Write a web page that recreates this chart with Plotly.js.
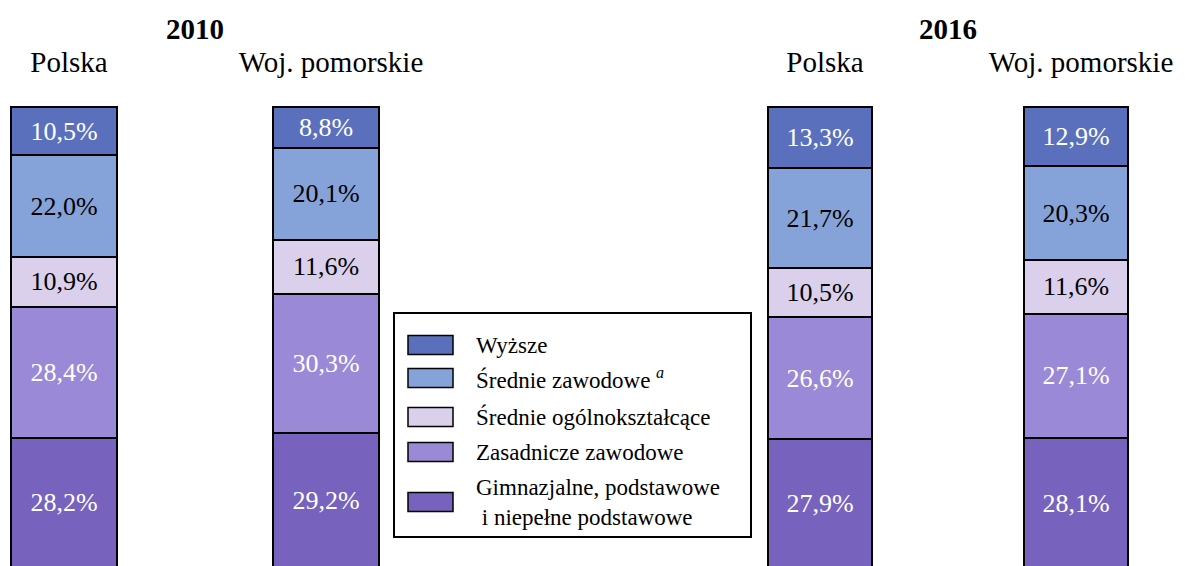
<!DOCTYPE html>
<html>
<head>
<meta charset="utf-8">
<script src="https://cdn.plot.ly/plotly-3.0.1.min.js"></script>
<style>
html,body{margin:0;padding:0;background:#fff;}
#chart{width:1185px;height:566px;}
</style>
</head>
<body>
<div id="chart"></div>
<script>
// ---- data ----
const categories = ['Polska', 'Woj. pomorskie'];
const years = ['2010', '2016'];
// levels listed bottom -> top of the stack
const levels = ['Gimnazjalne, podstawowe<br> i niepełne podstawowe', 'Zasadnicze zawodowe', 'Średnie ogólnokształcące', 'Średnie zawodowe <sup><i>a</i></sup>', 'Wyższe'];
// values [Polska, Woj. pomorskie] per level, 2010
const gimnazjalne2010 = [28.2, 29.2];
const zasadnicze2010  = [28.4, 30.3];
const srOgolne2010    = [10.9, 11.6];
const srZawodowe2010  = [22.0, 20.1];
const wyzsze2010      = [10.5, 8.8];
// 2016
const gimnazjalne2016 = [27.9, 28.1];
const zasadnicze2016  = [26.6, 27.1];
const srOgolne2016    = [10.5, 11.6];
const srZawodowe2016  = [21.7, 20.3];
const wyzsze2016      = [13.3, 12.9];

const colors = ['#7763bd', '#9a89d6', '#dad0ec', '#86a3d9', '#5b70bd'];
const textColors = ['#ffffff', '#ffffff', '#000000', '#000000', '#ffffff'];

const series2010 = [gimnazjalne2010, zasadnicze2010, srOgolne2010, srZawodowe2010, wyzsze2010];
const series2016 = [gimnazjalne2016, zasadnicze2016, srOgolne2016, srZawodowe2016, wyzsze2016];

const FONT = 'Liberation Serif';
const FONT_BAR = 'Times New Roman';
const FONT_LEG = 'Tinos';
const W = 1185, H = 566, T = 105;
const PH = H - T;
const px = x => x / W;
const py = y => (H - y) / PH;

function build() {
  const traces = [];
  [series2010, series2016].forEach((ser, yi) => {
    ser.forEach((vals, li) => {
      traces.push({
        type: 'bar',
        x: categories,
        y: vals,
        xaxis: yi === 0 ? 'x' : 'x2',
        yaxis: 'y',
        name: levels[li],
        width: yi === 0 ? 0.4046 : 0.41,
        marker: {color: colors[li], line: {color: '#000', width: 2}},
        texttemplate: '%{y:.1f}%',
        textposition: 'inside',
        insidetextanchor: 'middle',
        constraintext: 'none',
        textangle: 0,
        textfont: {family: FONT_BAR, size: 26, color: textColors[li]},
        showlegend: false,
        hoverinfo: 'skip'
      });
    });
  });

  // custom legend
  const shapes = [];
  const annotations = [];
  shapes.push({type: 'rect', xref: 'paper', yref: 'paper', x0: px(394), x1: px(751), y0: py(537), y1: py(313),
    line: {color: '#000', width: 2}, fillcolor: 'rgba(0,0,0,0)'});
  const rowCenters = [345, 378, 417, 452, 502];
  const order = [4, 3, 2, 1, 0];
  order.forEach((li, r) => {
    const c = rowCenters[r];
    shapes.push({type: 'rect', xref: 'paper', yref: 'paper', x0: px(408), x1: px(453), y0: py(c + 9.5), y1: py(c - 9.5),
      line: {color: '#000', width: 1.5}, fillcolor: colors[li]});
    annotations.push({xref: 'paper', yref: 'paper', x: px(474), y: py(c), xanchor: 'left', yanchor: 'middle',
      text: levels[li], showarrow: false, align: 'left', font: {family: FONT_LEG, size: 23, color: '#000'}});
  });
  // year titles
  years.forEach((yr, i) => {
    annotations.push({xref: i === 0 ? 'x' : 'x2', yref: 'paper', x: 0.5, y: py(29), xanchor: 'center', yanchor: 'middle',
      text: '<b>' + yr + '</b>', showarrow: false, font: {family: FONT, size: 29, color: '#000'}});
  });

  const xcommon = {type: 'category', side: 'top', showline: false, showgrid: false, zeroline: false, ticks: '',
    tickfont: {family: FONT, size: 29, color: '#000'}, ticklabelstandoff: 26, fixedrange: true};

  const layout = {
    width: W, height: H,
    margin: {l: 0, r: 0, t: T, b: 0, pad: 0},
    paper_bgcolor: '#fff', plot_bgcolor: '#fff',
    barmode: 'stack',
    separators: ', ',
    showlegend: false,
    font: {family: FONT, color: '#000'},
    xaxis: Object.assign({}, xcommon, {domain: [0, px(400)], range: [-0.2443, 1.2824], anchor: 'y', ticklabelshift: 5}),
    xaxis2: Object.assign({}, xcommon, {domain: [px(700), 1], range: [-0.46875, 1.4258], anchor: 'y', ticklabelshift: 5}),
    yaxis: {range: [0.434, 100.43], visible: false, showgrid: false, zeroline: false, fixedrange: true},
    shapes: shapes,
    annotations: annotations
  };
  return {traces, layout};
}

const b = build();
Plotly.newPlot('chart', b.traces, b.layout, {staticPlot: true, displayModeBar: false});
</script>
</body>
</html>
